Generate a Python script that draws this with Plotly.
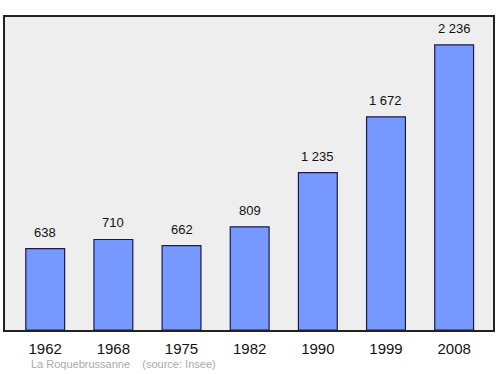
import plotly.graph_objects as go

years = ["1962", "1968", "1975", "1982", "1990", "1999", "2008"]
population = [638, 710, 662, 809, 1235, 1672, 2236]
labels = ["638", "710", "662", "809", "1 235", "1 672", "2 236"]
positions = list(range(len(years)))

fig = go.Figure()
fig.add_trace(go.Bar(
    x=positions, y=population, width=0.57,
    marker=dict(color="#7799ff", line=dict(color="#1a1a4d", width=1.2)),
    hoverinfo="skip",
))
for xi, yi, t in zip(positions, population, labels):
    fig.add_annotation(x=xi, y=yi, text=t, showarrow=False, yanchor="bottom",
                       yshift=7, font=dict(family="Liberation Sans, Arial", size=13, color="#111"))

fig.add_annotation(xref="paper", yref="paper", x=0.05, y=-0.083, xanchor="left", yanchor="top",
                   text="La Roquebrussanne &nbsp;&nbsp; (source: Insee)", showarrow=False,
                   font=dict(family="Liberation Sans, Arial", size=11, color="#aaaaaa"))

fig.update_layout(
    width=500, height=374,
    margin=dict(l=5, r=5, t=17, b=44),
    paper_bgcolor="white", plot_bgcolor="#eeeeee",
    showlegend=False,
    xaxis=dict(range=[-0.59, 6.57], tickmode="array", tickvals=positions, ticktext=years,
               showgrid=False, zeroline=False, showline=True, mirror=True,
               linecolor="#222", linewidth=1.5, ticks="", ticklabelstandoff=4,
               tickfont=dict(family="Liberation Sans, Arial", size=15, color="#111")),
    yaxis=dict(range=[0, 2455], showticklabels=False, showgrid=False, zeroline=False,
               showline=True, mirror=True, linecolor="#222", linewidth=1.5, ticks=""),
)
fig.write_html("out.html")
